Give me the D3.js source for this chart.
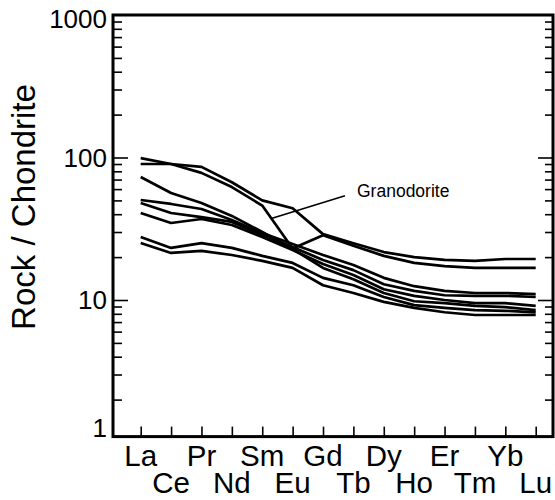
<!DOCTYPE html>
<html>
<head>
<meta charset="utf-8">
<script src="https://cdn.jsdelivr.net/npm/d3@7"></script>
<style>
  body { margin: 0; background: #fff; }
  svg text { font-family: "Liberation Sans", Arial, sans-serif; fill: #000; }
</style>
</head>
<body>
<div id="graphic"></div>
<script>
// REE elements on the x axis (Pm left out)
const elements = ["La", "Ce", "Pr", "Nd", "Sm", "Eu", "Gd", "Tb", "Dy", "Ho", "Er", "Tm", "Yb", "Lu"];

// rock / chondrite values
const granodiorite1 = [99, 90, 78, 62, 46, 23, 28.5, 24, 20.4, 18.2, 17.3, 16.8, 16.8, 16.8];
const granodiorite2 = [90, 90, 86, 67, 50, 44, 29, 25, 21.7, 20, 19.1, 18.8, 19.4, 19.4];
const sampleA = [73, 56.3, 47.9, 38.9, 30.0, 22.8, 16.8, 14.0, 11.2, 9.8, 9.5, 9.1, 8.9, 8.5];
const sampleB = [50.3, 47.2, 43.5, 36.4, 29.5, 24.7, 20.7, 17.6, 14.3, 12.5, 11.6, 11.2, 11.2, 11.0];
const sampleC = [47.9, 40.8, 38.2, 35.3, 28.6, 23.5, 19.1, 16.2, 12.9, 11.6, 10.8, 10.7, 10.7, 10.5];
const sampleD = [40.8, 34.7, 37.0, 33.6, 27.7, 22.4, 17.9, 15.0, 11.9, 10.7, 10.0, 9.5, 9.5, 9.1];
const sampleE = [27.7, 23.2, 25.1, 23.2, 20.4, 18.2, 14.3, 12.7, 10.5, 9.2, 8.8, 8.5, 8.4, 8.2];
const sampleF = [25.1, 21.4, 22.1, 20.7, 18.8, 16.8, 12.7, 11.2, 9.7, 8.8, 8.2, 7.85, 7.85, 7.85];

const series = [granodiorite1, granodiorite2, sampleA, sampleB, sampleC, sampleD, sampleE, sampleF];

// axis
const yTicks = [1, 10, 100, 1000];
const yDomain = [1.1, 1000];
const yTitle = "Rock / Chondrite";

// annotation: label sits near Gd at ~53, leader points at the Sm-Eu drop of granodiorite1
const labelText = "Granodorite";
const labelAt = { element: "Gd", value: 53 };

const W = 555, H = 500;
const frame = { left: 113, top: 15, right: 553, bottom: 436.6 };

const svg = d3.select('#graphic').append('svg')
  .attr('width', W).attr('height', H);

const x = d3.scalePoint().domain(elements).range([140.7, 535.7]);
const y = d3.scaleLog().domain(yDomain).range([frame.bottom, frame.top]);

// minor ticks 2..9 in every decade
let minor = [];
[1, 10, 100].forEach(d => { for (let k = 2; k < 10; k++) minor.push(d * k); });
minor = minor.filter(v => v >= yDomain[0] && v <= yDomain[1]);

function tickAxis(axis, tx) {
  const g = svg.append('g')
    .attr('transform', 'translate(' + tx + ',0)')
    .call(axis);
  g.select('.domain').remove();
  g.selectAll('line').attr('stroke', '#000').attr('stroke-width', 1.6);
  g.selectAll('text').remove();
}

// left side ticks (pointing in)
tickAxis(d3.axisRight(y).tickValues(minor).tickSize(9).tickFormat(''), frame.left);
tickAxis(d3.axisRight(y).tickValues([10, 100]).tickSize(15).tickFormat(''), frame.left);
// right side ticks
tickAxis(d3.axisLeft(y).tickValues(minor).tickSize(8).tickFormat(''), frame.right);
tickAxis(d3.axisLeft(y).tickValues([10, 100]).tickSize(15).tickFormat(''), frame.right);

// bottom ticks
const xg = svg.append('g')
  .attr('transform', 'translate(0,' + frame.bottom + ')')
  .call(d3.axisTop(x).tickSize(10).tickFormat(''));
xg.select('.domain').remove();
xg.selectAll('line').attr('stroke', '#000').attr('stroke-width', 1.6);

// frame
svg.append('rect')
  .attr('x', frame.left).attr('y', frame.top)
  .attr('width', frame.right - frame.left)
  .attr('height', frame.bottom - frame.top)
  .attr('fill', 'none').attr('stroke', '#000').attr('stroke-width', 3);

// y tick labels
svg.append('g').selectAll('text')
  .data(yTicks)
  .join('text')
  .attr('x', 107)
  .attr('y', d => Math.max(frame.top + 3.5, Math.min(frame.bottom - 9, y(Math.max(d, yDomain[0])))))
  .attr('dy', '0.36em')
  .attr('text-anchor', 'end')
  .style('font-size', '26px')
  .text(d => d);

// x labels, staggered in two rows
svg.append('g').selectAll('text')
  .data(elements)
  .join('text')
  .attr('x', d => x(d))
  .attr('y', (d, i) => frame.bottom + (i % 2 ? 56.5 : 29.5))
  .attr('text-anchor', 'middle')
  .style('font-size', '29.5px')
  .text(d => d);

// y title
svg.append('text')
  .attr('transform', 'translate(35,207) rotate(-90)')
  .attr('text-anchor', 'middle')
  .style('font-size', '33px')
  .text(yTitle);

// lines
const line = d3.line()
  .x((d, i) => x(elements[i]))
  .y(d => y(d));

svg.append('g').selectAll('path')
  .data(series)
  .join('path')
  .attr('d', line)
  .attr('fill', 'none')
  .attr('stroke', '#000')
  .attr('stroke-width', 2.7)
  .attr('stroke-linejoin', 'round');

// annotation
const lx = x(labelAt.element) + 34, ly = y(labelAt.value);
const i0 = elements.indexOf("Sm"), i1 = elements.indexOf("Eu");
const t = 0.3;
const px = x(elements[i0]) + t * (x(elements[i1]) - x(elements[i0]));
const py = y(granodiorite1[i0]) + t * (y(granodiorite1[i1]) - y(granodiorite1[i0]));

svg.append('line')
  .attr('x1', lx - 12).attr('y1', ly - 1)
  .attr('x2', px).attr('y2', py)
  .attr('stroke', '#000').attr('stroke-width', 1.6);

svg.append('text')
  .attr('x', lx).attr('y', ly)
  .style('font-size', '17.5px')
  .text(labelText);
</script>
</body>
</html>
